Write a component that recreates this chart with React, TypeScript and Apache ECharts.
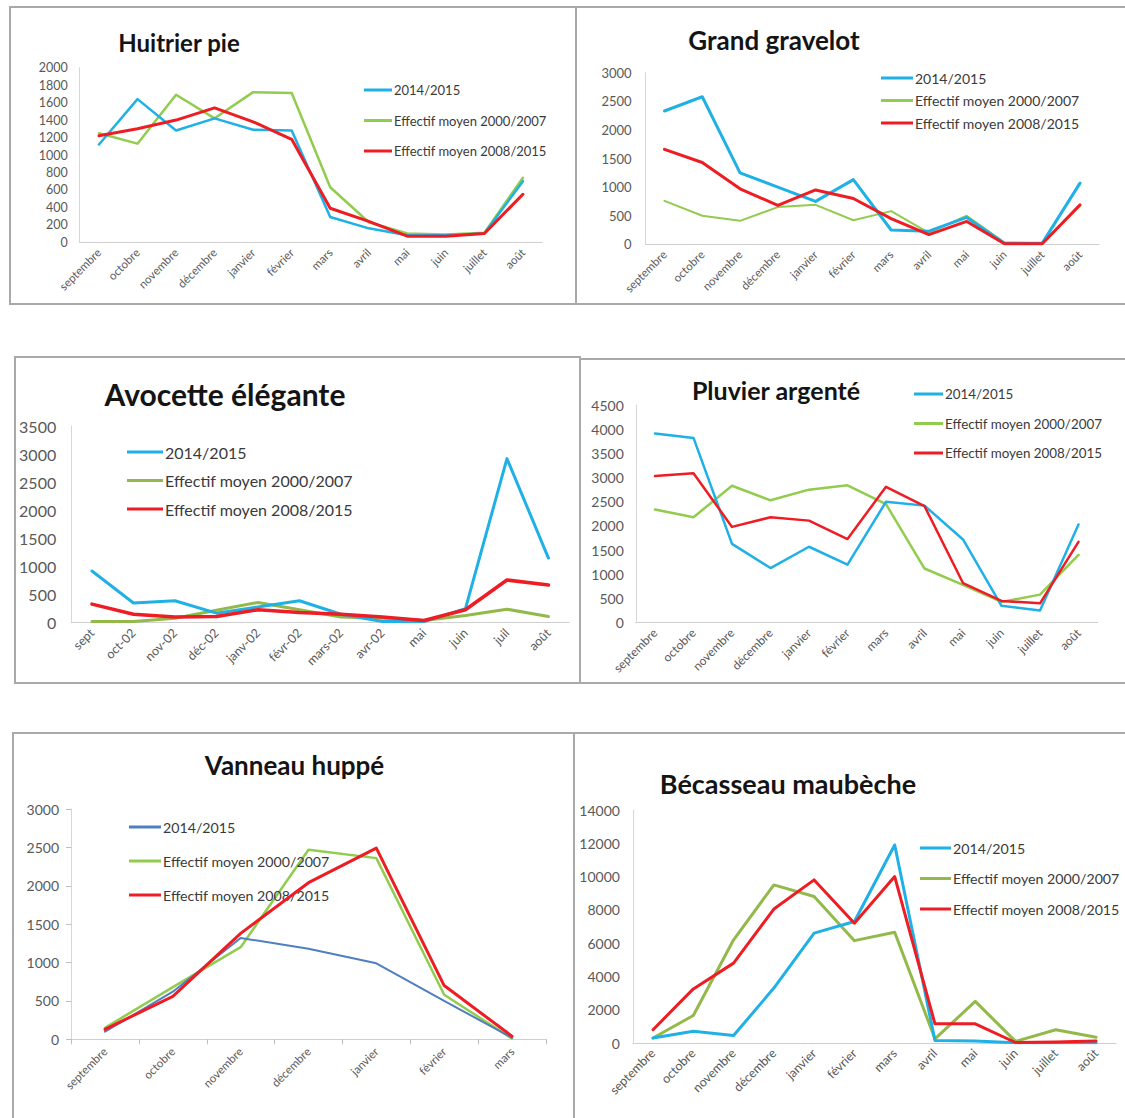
import React, { useEffect, useRef } from "react";
import * as echarts from "echarts";

const FONT = "Lato, 'Liberation Sans', sans-serif";

// ---------- categories ----------
const moisComplets = ["septembre", "octobre", "novembre", "décembre", "janvier", "février", "mars", "avril", "mai", "juin", "juillet", "août"];
const moisAvocette = ["sept", "oct-02", "nov-02", "déc-02", "janv-02", "févr-02", "mars-02", "avr-02", "mai", "juin", "juil", "août"];
const moisVanneau = ["septembre", "octobre", "novembre", "décembre", "janvier", "février", "mars"];
const seriesNames = ["2014/2015", "Effectif moyen 2000/2007", "Effectif moyen 2008/2015"];

// ---------- values ----------
const huitrier2014 = [1120, 1640, 1280, 1420, 1290, 1280, 290, 160, 80, 80, 100, 700];
const huitrier0007 = [1250, 1130, 1690, 1420, 1720, 1710, 630, 230, 100, 90, 110, 740];
const huitrier0815 = [1220, 1300, 1400, 1540, 1380, 1180, 390, 240, 70, 70, 100, 550];

const gravelot2014 = [2330, 2580, 1250, 1000, 750, 1130, 250, 230, 470, 20, 20, 1070];
const gravelot0007 = [760, 500, 410, 650, 690, 420, 580, 200, 500, 30, 20, 680];
const gravelot0815 = [1660, 1430, 970, 680, 950, 800, 450, 170, 400, 10, 10, 690];

const avocette2014 = [920, 350, 390, 170, 280, 390, 150, 20, 20, 250, 2920, 1150];
const avocette0007 = [20, 20, 80, 220, 360, 230, 100, 80, 40, 130, 240, 110];
const avocette0815 = [330, 150, 100, 110, 230, 180, 150, 100, 40, 230, 760, 670];

const pluvier2014 = [3910, 3820, 1630, 1130, 1570, 1200, 2500, 2420, 1720, 350, 250, 2030];
const pluvier0007 = [2340, 2180, 2830, 2530, 2750, 2840, 2450, 1120, 780, 430, 580, 1400];
const pluvier0815 = [3030, 3090, 1980, 2180, 2110, 1730, 2810, 2410, 820, 450, 400, 1670];

const vanneau2014 = [100, 620, 1320, 1180, 990, 500, 20];
const vanneau0007 = [150, 680, 1200, 2470, 2360, 580, 10];
const vanneau0815 = [130, 560, 1380, 2040, 2490, 700, 40];

const becasseau2014 = [300, 700, 450, 3300, 6600, 7300, 11900, 150, 120, 20, 20, 20];
const becasseau0007 = [300, 1650, 6200, 9500, 8800, 6150, 6650, 250, 2500, 100, 800, 350];
const becasseau0815 = [800, 3250, 4800, 8050, 9800, 7200, 10000, 1150, 1150, 30, 60, 120];

// ---------- colours ----------
const CYAN = "#1fb1e6";
const LIGHT_GREEN = "#92cc4e";
const OLIVE = "#92b94a";
const RED = "#ee1c23";
const DARK_BLUE = "#4f7fc0";

type Layout = {
  box: { x: number; y: number; w: number; h: number };
  gx0: number; gx1: number; gyTop: number; gyBot: number;
  titleX: number; titleY: number; titleSize: number;
  legendX: number; legendY0: number; legendStep: number; legendLine: number; legendFont: number;
  yFont: number; xFont: number; yMargin: number; xMargin: number;
  ticks: boolean;
};

type Panel = {
  title: string;
  categories: string[];
  values: number[][];
  yMax: number;
  yStep: number;
  colors: string[];
  widths: number[];
  layout: Layout;
};

const panels: Panel[] = [
  {
    title: "Huitrier pie",
    categories: moisComplets,
    values: [huitrier2014, huitrier0007, huitrier0815],
    yMax: 2000, yStep: 200,
    colors: [CYAN, LIGHT_GREEN, RED],
    widths: [2.5, 2.5, 3],
    layout: {
      box: { x: 9, y: 6, w: 568, h: 299 },
      gx0: 79.7, gx1: 542.2, gyTop: 67.7, gyBot: 242.3,
      titleX: 179, titleY: 42, titleSize: 24,
      legendX: 364, legendY0: 90, legendStep: 30.5, legendLine: 28, legendFont: 13,
      yFont: 12.5, xFont: 11.5, yMargin: 12, xMargin: 8, ticks: false,
    },
  },
  {
    title: "Grand gravelot",
    categories: moisComplets,
    values: [gravelot2014, gravelot0007, gravelot0815],
    yMax: 3000, yStep: 500,
    colors: [CYAN, LIGHT_GREEN, RED],
    widths: [3, 2, 3],
    layout: {
      box: { x: 575, y: 6, w: 570, h: 299 },
      gx0: 645.6, gx1: 1098.9, gyTop: 72.7, gyBot: 244.3,
      titleX: 774, titleY: 40, titleSize: 26,
      legendX: 881, legendY0: 78, legendStep: 22.5, legendLine: 32, legendFont: 14,
      yFont: 13, xFont: 11.5, yMargin: 14, xMargin: 8, ticks: false,
    },
  },
  {
    title: "Avocette élégante",
    categories: moisAvocette,
    values: [avocette2014, avocette0007, avocette0815],
    yMax: 3500, yStep: 500,
    colors: [CYAN, OLIVE, RED],
    widths: [3, 3, 3.5],
    layout: {
      box: { x: 14, y: 356, w: 567, h: 328 },
      gx0: 71.2, gx1: 569.2, gyTop: 426, gyBot: 622.7,
      titleX: 225, titleY: 394, titleSize: 30,
      legendX: 127, legendY0: 452, legendStep: 28.5, legendLine: 36, legendFont: 16,
      yFont: 16, xFont: 12.5, yMargin: 15, xMargin: 8, ticks: false,
    },
  },
  {
    title: "Pluvier argenté",
    categories: moisComplets,
    values: [pluvier2014, pluvier0007, pluvier0815],
    yMax: 4500, yStep: 500,
    colors: [CYAN, LIGHT_GREEN, RED],
    widths: [2.5, 2.5, 2.5],
    layout: {
      box: { x: 579, y: 358, w: 570, h: 326 },
      gx0: 635.75, gx1: 1097.75, gyTop: 405, gyBot: 622.7,
      titleX: 776, titleY: 390, titleSize: 25,
      legendX: 914, legendY0: 394, legendStep: 29.5, legendLine: 29, legendFont: 13.4,
      yFont: 14, xFont: 12, yMargin: 12, xMargin: 8, ticks: false,
    },
  },
  {
    title: "Vanneau huppé",
    categories: moisVanneau,
    values: [vanneau2014, vanneau0007, vanneau0815],
    yMax: 3000, yStep: 500,
    colors: [DARK_BLUE, LIGHT_GREEN, RED],
    widths: [2, 2.5, 3],
    layout: {
      box: { x: 12, y: 732, w: 563, h: 400 },
      gx0: 71.1, gx1: 545.9, gyTop: 809, gyBot: 1039.3,
      titleX: 294.5, titleY: 765, titleSize: 26,
      legendX: 129, legendY0: 827, legendStep: 34, legendLine: 32, legendFont: 14.2,
      yFont: 14, xFont: 11.5, yMargin: 12, xMargin: 10, ticks: true,
    },
  },
  {
    title: "Bécasseau maubèche",
    categories: moisComplets,
    values: [becasseau2014, becasseau0007, becasseau0815],
    yMax: 14000, yStep: 2000,
    colors: [CYAN, OLIVE, RED],
    widths: [3, 3, 3],
    layout: {
      box: { x: 573, y: 732, w: 570, h: 400 },
      gx0: 632.9, gx1: 1116.2, gyTop: 810, gyBot: 1043,
      titleX: 788, titleY: 783, titleSize: 27,
      legendX: 920, legendY0: 848, legendStep: 30.5, legendLine: 31, legendFont: 14.2,
      yFont: 14, xFont: 12.5, yMargin: 13, xMargin: 8, ticks: false,
    },
  },
];

function buildOption(p: Panel) {
  const L = p.layout;
  const ox = L.box.x;
  const oy = L.box.y;
  const lh = L.legendFont + 2;
  return {
    animation: false,
    textStyle: { fontFamily: FONT },
    graphic: [
      {
        type: "text",
        x: L.titleX - ox,
        y: L.titleY - oy,
        style: {
          text: p.title,
          fontFamily: FONT,
          fontSize: L.titleSize,
          fontWeight: "bold",
          fill: "#141414",
          align: "center",
          textAlign: "center",
          verticalAlign: "middle",
          textVerticalAlign: "middle",
        },
      },
    ],
    legend: {
      orient: "vertical",
      left: L.legendX - ox,
      top: L.legendY0 - lh / 2 - oy,
      padding: 0,
      icon: "rect",
      itemWidth: L.legendLine,
      itemHeight: 3,
      itemGap: L.legendStep - lh,
      itemStyle: { borderWidth: 0 },
      selectedMode: false,
      textStyle: { fontFamily: FONT, fontSize: L.legendFont, color: "#3a3a3a", lineHeight: lh, padding: [0, 0, 0, -3] },
      data: seriesNames,
    },
    grid: {
      left: L.gx0 - ox,
      top: L.gyTop - oy,
      width: L.gx1 - L.gx0,
      height: L.gyBot - L.gyTop,
    },
    xAxis: {
      type: "category",
      data: p.categories,
      boundaryGap: true,
      axisLine: { show: true, lineStyle: { color: "#cfcfcf", width: 1 } },
      axisTick: { show: L.ticks, length: 5, lineStyle: { color: "#bdbdbd" } },
      axisLabel: { rotate: 45, interval: 0, fontFamily: FONT, fontSize: L.xFont, color: "#595959", margin: L.xMargin },
      splitLine: { show: false },
    },
    yAxis: {
      type: "value",
      min: 0,
      max: p.yMax,
      interval: p.yStep,
      axisLine: { show: true, lineStyle: { color: "#d6d6d6", width: 1 } },
      axisTick: { show: L.ticks, length: 5, lineStyle: { color: "#bdbdbd" } },
      axisLabel: {
        fontFamily: FONT,
        fontSize: L.yFont,
        color: "#595959",
        margin: L.yMargin,
        formatter: (v: number) => String(v),
      },
      splitLine: { show: false },
    },
    series: p.values.map((vals, i) => ({
      name: seriesNames[i],
      type: "line",
      data: vals,
      symbol: "none",
      color: p.colors[i],
      itemStyle: { color: p.colors[i] },
      lineStyle: { color: p.colors[i], width: p.widths[i], join: "round", cap: "round" },
      z: i === 2 ? 4 : i === 0 ? 3 : 2,
    })),
  };
}

function ChartPanel({ p }: { p: Panel }) {
  const ref = useRef<HTMLDivElement>(null);
  useEffect(() => {
    if (!ref.current) return;
    const chart = echarts.init(ref.current, undefined, { renderer: "svg" });
    chart.setOption(buildOption(p) as any);
    return () => chart.dispose();
  }, [p]);
  const b = p.layout.box;
  return (
    <>
      <div ref={ref} style={{ position: "absolute", left: b.x, top: b.y, width: b.w, height: b.h }} />
      <div
        style={{
          position: "absolute",
          left: b.x,
          top: b.y,
          width: b.w,
          height: b.h,
          border: "2px solid #a9a9a9",
          boxSizing: "border-box",
          pointerEvents: "none",
        }}
      />
    </>
  );
}

export default function App() {
  return (
    <div
      style={{
        position: "absolute",
        left: 0,
        top: 0,
        width: 1125,
        height: 1118,
        overflow: "hidden",
        background: "#ffffff",
      }}
    >
      {panels.map((p) => (
        <ChartPanel key={p.title} p={p} />
      ))}
    </div>
  );
}
